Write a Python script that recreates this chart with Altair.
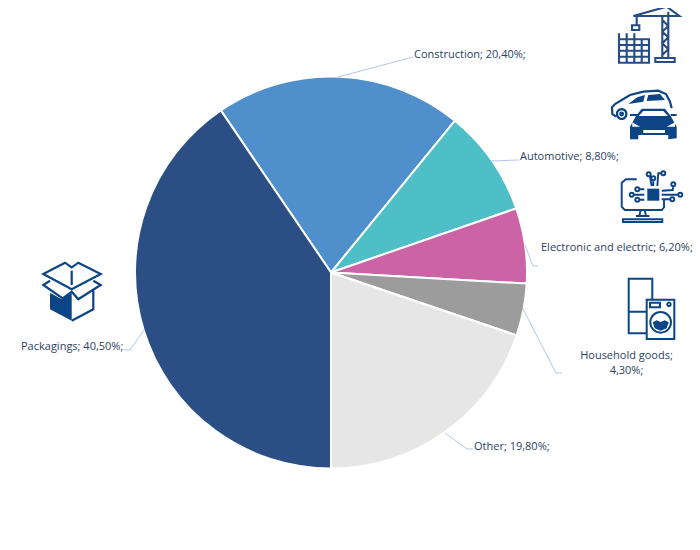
import math
import altair as alt
import pandas as pd

# ---- chart data ----
sectors = ["Construction", "Automotive", "Electronic and electric", "Household goods", "Other", "Packagings"]
shares = [20.4, 8.8, 6.2, 4.3, 19.8, 40.5]
colours = ["#4f8fcc", "#4fbfc7", "#cc63a4", "#9c9c9c", "#e6e6e6", "#2b4f85"]

W, H = 684, 530
OFF = 8
LEADER = "#b4c7e7"
TEXT = "#2b3f63"
NAVY = "#0b4585"
CRANE = "#254c85"
FONT = "Open Sans"

label = [f"{n}; {str(format(v, '.2f')).replace('.', ',')}%;" for n, v in zip(sectors, shares)]
df = pd.DataFrame({"sector": sectors, "share": shares, "idx": range(6), "label": label})
start = -34.2 * math.pi / 180

pie = alt.Chart(df).mark_arc(radius=196, stroke="white", strokeWidth=2).encode(
    x=alt.value(331 - OFF),
    y=alt.value(272.5 - OFF),
    theta=alt.Theta("share:Q", stack=True,
                    scale=alt.Scale(domain=[0, 100], range=[start, start + 2 * math.pi])),
    order=alt.Order("idx:Q"),
    color=alt.Color("sector:N", scale=alt.Scale(domain=sectors, range=colours), legend=None),
)

one = pd.DataFrame({"k": [0]})


def text_layer(s, x, y, align="left"):
    d = pd.DataFrame({"t": [s]})
    return alt.Chart(d).mark_text(align=align, baseline="middle", font=FONT, fontSize=11,
                                  color=TEXT).encode(
        x=alt.value(x - OFF), y=alt.value(y - OFF), text="t:N")


def leader(pts):
    return [alt.Chart(one).mark_rule(color=LEADER, strokeWidth=1).encode(
        x=alt.value(a[0] - OFF), y=alt.value(a[1] - OFF),
        x2=alt.value(b[0] - OFF), y2=alt.value(b[1] - OFF)) for a, b in zip(pts, pts[1:])]


# ---- icons: sketches in zoomed-crop units, mapped to page space ----
def mapper(ox, oy):
    def m(p):
        return f"{ox + p[0] / 3 - OFF:.1f},{oy + p[1] / 3 - OFF:.1f}"
    return m


def poly(m, pts, close=False):
    return "M" + "L".join(m(p) for p in pts) + ("Z" if close else "")


def circ(m, c, r):
    rr = r / 3
    a = m((c[0] - r, c[1]))
    return f"M{a}a{rr:.2f},{rr:.2f} 0 1,0 {2 * rr:.2f},0a{rr:.2f},{rr:.2f} 0 1,0 {-2 * rr:.2f},0"


def rect(m, x0, y0, x1, y1):
    return poly(m, [(x0, y0), (x1, y0), (x1, y1), (x0, y1)], True)


def icon(path, colour=NAVY, sw=1.5, fill=False):
    kw = dict(shape=path, size=4, opacity=1)
    if fill:
        mk = alt.Chart(one).mark_point(filled=True, color=colour, strokeWidth=0, **kw)
    else:
        mk = alt.Chart(one).mark_point(filled=False, color=colour, strokeWidth=sw, **kw)
    return mk.encode(x=alt.value(0), y=alt.value(0))


layers = [pie]

# labels and leader lines
layers += [text_layer(label[0], 414, 55)] + leader([(338, 77), (413, 57)])
layers += [text_layer(label[1], 520, 157)] + leader([(492, 161), (519, 160)])
layers += [text_layer(label[2], 541, 248)] + leader([(525, 245), (533, 266), (538, 266)])
layers += [text_layer("Household goods;", 626.5, 356, "center"), text_layer("4,30%;", 626.5, 371, "center")]
layers += leader([(523, 309), (556, 373), (562, 373)])
layers += [text_layer(label[4], 474, 447)] + leader([(445, 433), (467, 449), (473, 449)])
layers += [text_layer(label[5], 21, 347)] + leader([(144, 330), (130, 350), (124, 350)])

# crane + building
m = mapper(600, 0)
crane = poly(m, [(100, 48), (200, 20), (238, 48), (100, 48)])
crane += poly(m, [(187, 50), (187, 172)]) + poly(m, [(205, 35), (205, 172)])
crane += poly(m, [(187, 60), (205, 78), (187, 95), (205, 112), (187, 130), (205, 148), (187, 165)])
crane += poly(m, [(110, 50), (110, 76)]) + rect(m, 96, 76, 118, 90)
crane += rect(m, 166, 174, 224, 186)
crane += rect(m, 57, 118, 147, 188)
for x in (57, 80, 103):
    crane += poly(m, [(x, 100), (x, 118)])
for x in (80, 103, 125):
    crane += poly(m, [(x, 118), (x, 188)])
for y in (135, 152, 170):
    crane += poly(m, [(57, y), (147, y)])
layers.append(icon(crane, CRANE, 2.1))

# rear car
car = poly(m, [(48, 350), (37, 342), (36, 322), (45, 312), (90, 285), (130, 275), (175, 272), (198, 282), (210, 305), (215, 325)])
car += circ(m, (65, 342), 14) + circ(m, (65, 342), 4)
car += poly(m, [(90, 345), (115, 345)])
layers.append(icon(car, NAVY, 2.2))
win = poly(m, [(85, 312), (112, 292), (135, 285), (130, 305)], True)
win += poly(m, [(145, 285), (180, 282), (195, 300), (140, 303)], True)
layers.append(icon(win, NAVY, 1, True))
# front car
layers.append(icon(poly(m, [(90, 380), (108, 348), (125, 326), (195, 326), (212, 348), (230, 380), (230, 415), (205, 418), (205, 405), (115, 405), (115, 418), (90, 418)], True), NAVY, fill=True))
layers.append(icon(poly(m, [(92, 345), (108, 345)]) + poly(m, [(212, 345), (230, 345)]), NAVY, 2.2))
white = poly(m, [(116, 348), (130, 333), (190, 333), (204, 348)], True)
white += poly(m, [(97, 367), (120, 380), (97, 380)], True) + poly(m, [(225, 367), (200, 380), (225, 380)], True)
white += rect(m, 130, 390, 195, 399)
layers.append(icon(white, "white", fill=True))

# computer
m = mapper(600, 160)
pc = poly(m, [(110, 58), (78, 58), (65, 68), (65, 140), (74, 150), (185, 150), (192, 142), (192, 120)])
pc += poly(m, [(122, 150), (118, 168)]) + poly(m, [(134, 150), (138, 168)]) + poly(m, [(108, 168), (148, 168)])
pc += rect(m, 69, 178, 187, 186)
pc += poly(m, [(117, 88), (133, 88)]) + poly(m, [(100, 104), (133, 104)]) + poly(m, [(117, 119), (133, 119)])
pc += poly(m, [(185, 92), (218, 90), (220, 78)]) + poly(m, [(185, 104), (235, 104)]) + poly(m, [(185, 118), (212, 118)])
pc += poly(m, [(150, 50), (155, 78)]) + poly(m, [(160, 60), (160, 78)]) + poly(m, [(185, 40), (175, 40), (172, 78)])
for c in [(112, 88), (95, 104), (112, 119), (220, 73), (241, 104), (217, 118), (146, 43), (160, 55), (190, 40)]:
    pc += circ(m, c, 6)
layers.append(icon(pc, NAVY, 1.9))
layers.append(icon(rect(m, 142, 86, 178, 122), NAVY, fill=True))

# fridge + washer
ap = poly(m, [(140, 520), (86, 520), (86, 356), (157, 356), (157, 418)])
ap += poly(m, [(86, 455), (140, 455)])
ap += rect(m, 140, 419, 223, 537) + rect(m, 150, 428, 180, 442)
ap += circ(m, (207, 433), 5) + circ(m, (182, 487), 31)
layers.append(icon(ap, NAVY, 2))
layers.append(icon(poly(m, [(158, 487), (170, 481), (182, 486), (194, 481), (206, 487), (200, 505), (182, 512), (164, 505)], True), NAVY, fill=True))

# box
m = mapper(10, 250)
layers.append(icon(poly(m, [(120, 128), (155, 148), (185, 128), (185, 212), (120, 178)], True), NAVY, fill=True))
bx = poly(m, [(100, 72), (165, 38), (185, 52), (205, 38), (272, 72), (185, 118)], True)
bx += poly(m, [(185, 62), (185, 105)])
bx += poly(m, [(120, 92), (100, 105), (158, 145), (185, 125), (205, 148), (272, 105), (250, 92)])
bx += poly(m, [(250, 118), (250, 178), (185, 212)])
layers.append(icon(bx, NAVY, 2.2))

chart = alt.layer(*layers).resolve_scale(theta="shared").properties(
    width=W, height=H, padding=0,
    autosize=alt.AutoSizeParams(type="none"),
).configure_view(stroke=None)

chart.save("out.html", embed_options={"renderer": "svg", "actions": False})
